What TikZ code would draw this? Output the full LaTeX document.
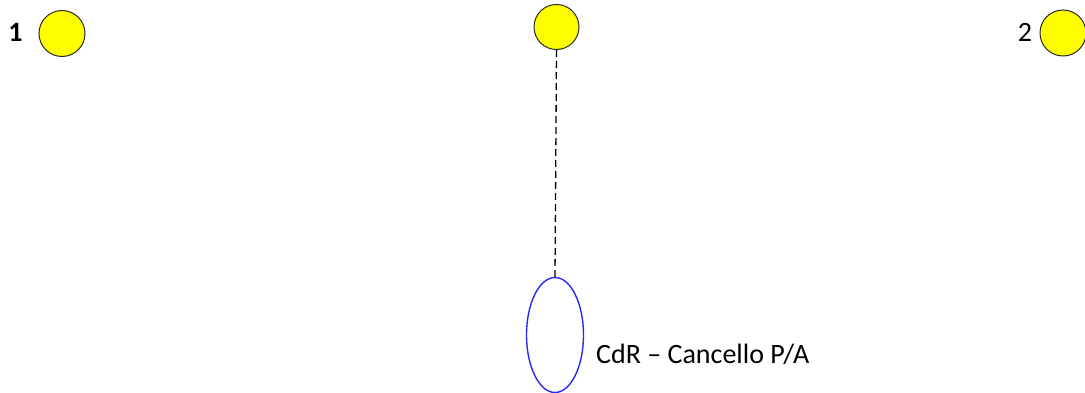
\documentclass[tikz,border=0pt]{standalone}
\usepackage{fontspec}
\setmainfont{Carlito}
\usepackage{xcolor}
\definecolor{PoleYellow}{RGB}{255,255,0}
\definecolor{PoleEdge}{RGB}{40,40,40}
\definecolor{GateBlue}{RGB}{40,40,240}
\usepackage{tikz}
\usetikzlibrary{positioning, shapes.geometric}

\begin{document}
\begin{tikzpicture}[x=1pt, y=1pt, font=\fontsize{28}{34}\selectfont,
    pole/.style={circle, draw=PoleEdge, line width=1pt, fill=PoleYellow, minimum size=46pt, inner sep=0pt},
    gate/.style={ellipse, draw=GateBlue, line width=1.4pt, minimum width=57pt, minimum height=115pt, inner sep=0pt}]
    \useasboundingbox (0, 0) rectangle (1085, 392);
    \node[pole] (P1) at (62, 358.5) {};
    \node[pole, minimum size=45pt] (PM) at (556.5, 365) {};
    \node[pole] (P2) at (1063, 359) {};
    \node[font=\fontsize{28}{34}\selectfont\bfseries] (L1) at (15.5, 360) {1};
    \node (L2) at (1025, 360) {2};
    \node[gate] (G) at (555, 57) {};
    \node[anchor=base west, inner sep=0pt] (GL) at (596, 29) {CdR -- Cancello P/A};
    \draw [black, line width=1.3pt, dash pattern=on 7pt off 4pt] (PM.south) -- (G.north);
  \end{tikzpicture}
\end{document}
